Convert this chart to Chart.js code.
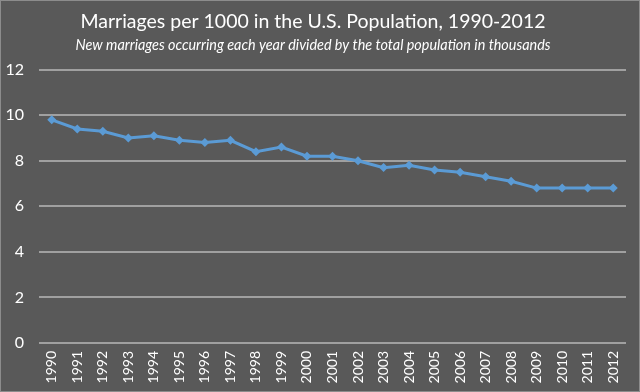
<!DOCTYPE html>
<html>
<head>
<meta charset="utf-8">
<script src="https://cdn.jsdelivr.net/npm/chart.js@4"></script>
<style>
html,body{margin:0;padding:0;background:#595959;}
canvas{display:block;}
</style>
</head>
<body>
<canvas id="c" width="640" height="392"></canvas>
<script>
const years = ['1990','1991','1992','1993','1994','1995','1996','1997','1998','1999','2000','2001','2002','2003','2004','2005','2006','2007','2008','2009','2010','2011','2012'];
const marriageRate = [9.8,9.4,9.3,9.0,9.1,8.9,8.8,8.9,8.4,8.6,8.2,8.2,8.0,7.7,7.8,7.6,7.5,7.3,7.1,6.8,6.8,6.8,6.8];
const yTicks = [0,2,4,6,8,10,12];
const titleText = 'Marriages per 1000 in the U.S. Population, 1990-2012';
const subtitleText = 'New marriages occurring each year divided by the total population in thousands';

const bgPlugin = {
  id: 'bg',
  beforeDraw(chart) {
    const ctx = chart.ctx;
    ctx.save();
    ctx.fillStyle = '#595959';
    ctx.fillRect(0, 0, chart.width, chart.height);
    ctx.strokeStyle = '#8c8c8c';
    ctx.lineWidth = 1;
    ctx.strokeRect(0.5, 0.5, chart.width - 1, chart.height - 1);
    ctx.restore();
  }
};

new Chart(document.getElementById('c'), {
  type: 'line',
  data: {
    labels: years,
    datasets: [{
      data: marriageRate,
      borderColor: '#5b9bd5',
      backgroundColor: '#5b9bd5',
      borderWidth: 3,
      pointStyle: 'rectRot',
      pointRadius: 4.5,
      pointBorderWidth: 0,
      pointBackgroundColor: '#5b9bd5',
      tension: 0,
      fill: false
    }]
  },
  options: {
    responsive: false,
    devicePixelRatio: 1,
    animation: false,
    layout: { padding: { left: 0, right: 14, top: 0, bottom: 0 } },
    plugins: {
      legend: { display: false },
      tooltip: { enabled: false },
      title: {
        display: true,
        text: titleText,
        color: '#ffffff',
        font: { family: 'Lato', size: 19.5, weight: 'normal', lineHeight: 1.2 },
        padding: { top: 10, bottom: 0 }
      },
      subtitle: {
        display: true,
        text: subtitleText,
        color: '#ffffff',
        font: { family: 'Lato', size: 14.4, style: 'italic', weight: 'normal', lineHeight: 1.2 },
        padding: { top: 3, bottom: 16 }
      }
    },
    scales: {
      x: {
        offset: true,
        grid: { display: false, drawTicks: false },
        border: { display: false },
        ticks: {
          color: '#ffffff',
          font: { family: 'Lato', size: 14 },
          minRotation: 90,
          maxRotation: 90,
          autoSkip: false,
          padding: 8
        },
        afterFit(scale) { scale.height = 49; }
      },
      y: {
        min: 0,
        max: 12,
        afterBuildTicks(scale) { scale.ticks = yTicks.map(v => ({ value: v })); },
        grid: { color: '#a0a0a0', lineWidth: 2, drawTicks: false },
        border: { display: false },
        ticks: {
          color: '#ffffff',
          font: { family: 'Lato', size: 16 },
          padding: 15
        },
        afterFit(scale) { scale.width = 39; }
      }
    }
  },
  plugins: [bgPlugin]
});
</script>
</body>
</html>
